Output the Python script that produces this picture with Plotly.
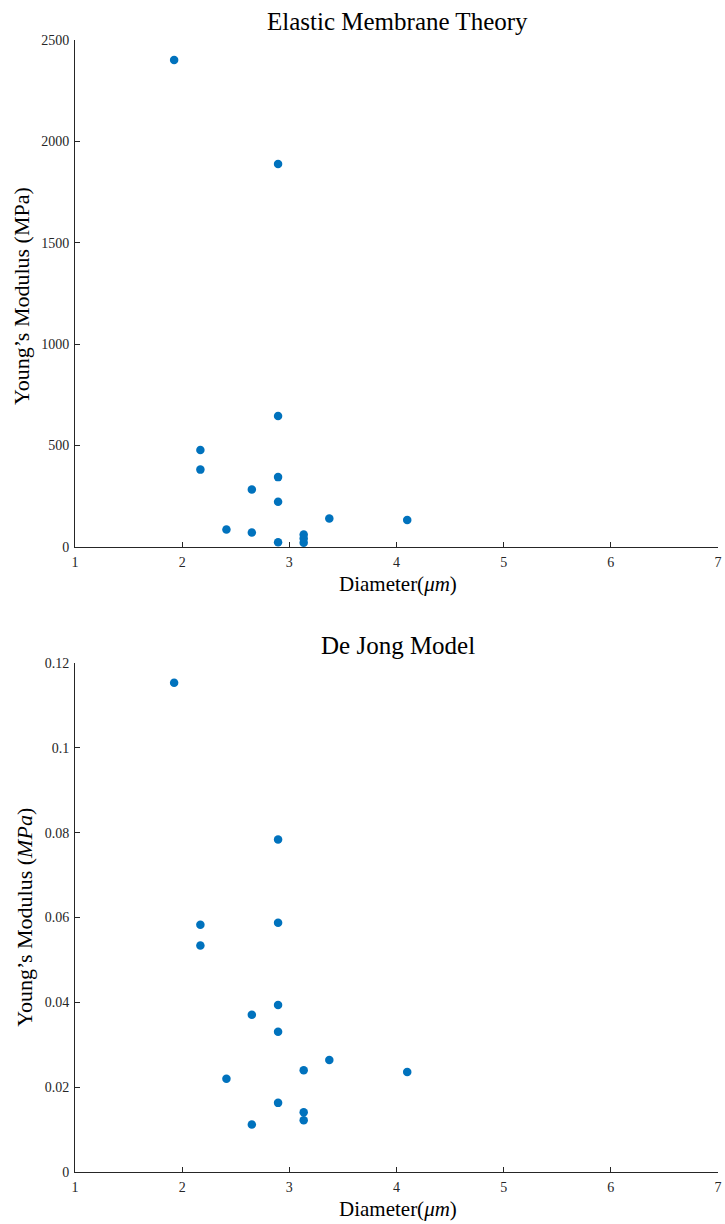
import plotly.graph_objects as go

# Elastic membrane theory
emt_diameter = [1.925, 2.895, 2.895, 2.17, 2.17, 2.895, 2.65, 2.895, 3.373, 4.10, 2.413, 2.65, 3.134, 3.134, 3.134, 2.895]
emt_modulus = [2401, 1888, 645, 478, 381, 344, 283, 222, 140, 132, 86, 71, 61, 41, 20, 23]

# De Jong model
dj_diameter = [1.925, 2.895, 2.17, 2.17, 2.895, 2.895, 2.65, 2.895, 3.373, 3.134, 4.10, 2.413, 2.895, 3.134, 3.134, 2.65]
dj_modulus = [0.1154, 0.0784, 0.0583, 0.0534, 0.0588, 0.0394, 0.0371, 0.0331, 0.0264, 0.0240, 0.0236, 0.0220, 0.0163, 0.0141, 0.0122, 0.0112]

x_ticks = [1, 2, 3, 4, 5, 6, 7]
emt_yticks = [0, 500, 1000, 1500, 2000, 2500]
dj_yticks = [0, 0.02, 0.04, 0.06, 0.08, 0.1, 0.12]
dj_yticklabels = ["0", "0.02", "0.04", "0.06", "0.08", "0.1", "0.12"]

W, H = 725, 1224
FONT = "Liberation Serif"
AX = "#262626"
TXT = "#262626"
BLUE = "#0072BD"

# plot-area bounds in page pixels
L, R, T, B = 75, 718.5, 40, 1172.3
PW = R - L
PH = B - T

fig = go.Figure()
fig.add_trace(go.Scatter(x=emt_diameter, y=emt_modulus, mode="markers",
                         marker=dict(color=BLUE, size=8.5), xaxis="x", yaxis="y",
                         showlegend=False, cliponaxis=False))
fig.add_trace(go.Scatter(x=dj_diameter, y=dj_modulus, mode="markers",
                         marker=dict(color=BLUE, size=8.5), xaxis="x2", yaxis="y2",
                         showlegend=False, cliponaxis=False))

top_dom = [(B - 547) / PH, 1]
bot_dom = [0, (B - 663.3) / PH]

common = dict(showline=True, linecolor=AX, linewidth=1, ticks="inside", ticklen=5,
              tickcolor=AX, showgrid=False, zeroline=False, mirror=False,
              automargin=False, ticklabelstandoff=2, ticklabeloverflow="allow",
              tickfont=dict(family=FONT, size=14, color=TXT))

fig.update_layout(
    width=W, height=H,
    margin=dict(l=L, r=W - R, t=T, b=H - B, pad=0),
    paper_bgcolor="white", plot_bgcolor="white",
    xaxis=dict(domain=[0, 1], range=[1, 7], tickvals=x_ticks, anchor="y", **common),
    yaxis=dict(domain=top_dom, range=[0, 2500], tickvals=emt_yticks, anchor="x", **common),
    xaxis2=dict(domain=[0, 1], range=[1, 7], tickvals=x_ticks, anchor="y2", **common),
    yaxis2=dict(domain=bot_dom, range=[0, 0.12], tickvals=dj_yticks, ticktext=dj_yticklabels,
                anchor="x2", **common),
)

def ann(text, x, y, size, angle=0):
    # x, y in page pixels -> paper coords (relative to plot area)
    fig.add_annotation(text=text, x=(x - L) / PW, y=(B - y) / PH, xref="paper", yref="paper",
                       showarrow=False, textangle=angle, xanchor="center", yanchor="middle",
                       font=dict(family=FONT, size=size, color="black"))

ann("Elastic Membrane Theory", 398, 21, 25)
ann("De Jong Model", 398, 646, 25)
ann("Diameter(<i>μm</i>)", 398, 584, 21)
ann("Diameter(<i>μm</i>)", 398, 1209, 21)
ann("Young’s Modulus (MPa)", 22, 296, 22, -90)
ann("Young’s Modulus (<i>MPa</i>)", 25, 918, 22, -90)

fig.write_html(
    "out.html",
    config={"displayModeBar": False},
    post_script="document.body.style.margin='0';document.body.style.overflow='hidden';",
)
